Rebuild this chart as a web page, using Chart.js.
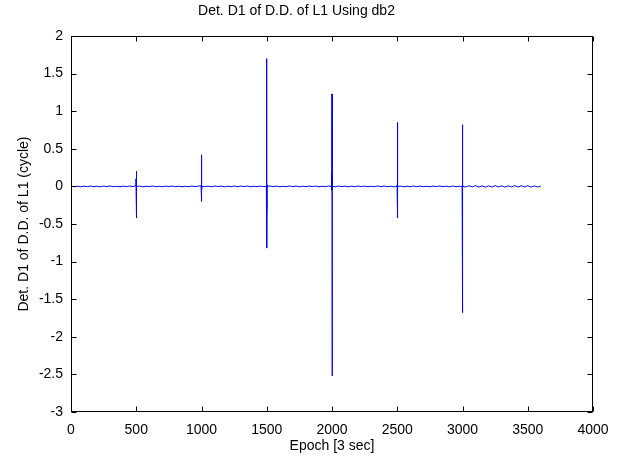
<!DOCTYPE html>
<html>
<head>
<meta charset="utf-8">
<script src="https://cdn.jsdelivr.net/npm/chart.js@4/dist/chart.umd.min.js"></script>
<style>
  html, body { margin: 0; padding: 0; background: #fff; }
  #wrap { width: 620px; height: 459px; }
</style>
</head>
<body>
<div id="wrap"><canvas id="d1Chart" width="620" height="459"></canvas></div>
<script>
// quiet part of the detail signal (epoch, value)
const baseEpochs = [
  0, 25, 50, 75, 100, 125, 150, 175, 200, 225, 250, 275, 300, 325, 350, 375, 400, 425, 450, 475,
  525, 550, 575, 600, 625, 650, 675, 700, 725, 750, 775, 800, 825, 850, 875, 900, 925, 950, 975,
  1025, 1050, 1075, 1100, 1125, 1150, 1175, 1200, 1225, 1250, 1275, 1300, 1325, 1350, 1375, 1400, 1425, 1450, 1475,
  1525, 1550, 1575, 1600, 1625, 1650, 1675, 1700, 1725, 1750, 1775, 1800, 1825, 1850, 1875, 1900, 1925, 1950, 1975,
  2025, 2050, 2075, 2100, 2125, 2150, 2175, 2200, 2225, 2250, 2275, 2300, 2325, 2350, 2375, 2400, 2425, 2450, 2475,
  2525, 2550, 2575, 2600, 2625, 2650, 2675, 2700, 2725, 2750, 2775, 2800, 2825, 2850, 2875, 2900, 2925, 2950, 2975,
  3025, 3050, 3075, 3100, 3125, 3150, 3175, 3200, 3225, 3250, 3275, 3300, 3325, 3350, 3375, 3400, 3425, 3450, 3475,
  3500, 3525, 3550, 3575, 3600
];
const baseValues = [
  0.003, -0.004, 0.002, -0.005, 0.004, -0.003, 0.005, -0.004, 0.002, -0.005, 0.004, -0.002, 0.005, -0.004, 0.001, -0.005, 0.004, -0.003, 0.005, -0.002,
  0.004, -0.005, 0.002, -0.003, 0.005, -0.004, 0.002, -0.005, 0.004, -0.002, 0.005, -0.004, 0.003, -0.005, 0.002, -0.004, 0.005, -0.003, 0.004,
  -0.004, 0.003, -0.005, 0.005, -0.002, 0.004, -0.005, 0.002, -0.004, 0.005, -0.003, 0.004, -0.002, 0.005, -0.005, 0.002, -0.004, 0.004, -0.003,
  0.005, -0.003, 0.004, -0.005, 0.002, -0.004, 0.005, -0.002, 0.004, -0.005, 0.003, -0.004, 0.005, -0.002, 0.004, -0.005, 0.002, -0.003, 0.005,
  -0.004, 0.005, -0.002, 0.004, -0.005, 0.003, -0.004, 0.005, -0.002, 0.004, -0.005, 0.002, -0.004, 0.005, -0.003, 0.005, -0.004, 0.002, -0.005,
  0.004, -0.005, 0.002, -0.004, 0.005, -0.003, 0.005, -0.004, 0.002, -0.005, 0.004, -0.002, 0.005, -0.004, 0.003, -0.005, 0.005, -0.004, 0.002,
  -0.008, 0.009, -0.006, 0.01, -0.008, 0.007, -0.01, 0.008, -0.009, 0.01, -0.007, 0.008, -0.01, 0.008, -0.006, 0.01, -0.008, 0.009, -0.008,
  0.01, -0.01, 0.007, -0.008, 0.005
];

// spikes (cycle slips) near every 500 epochs
const spikeEpochs = [
  497, 498, 499, 500, 501, 502, 503, 504,
  997, 998, 999, 1000, 1001, 1002, 1003, 1004,
  1497, 1498, 1499, 1500, 1501, 1502, 1503, 1504,
  1997, 1998, 1999, 2000, 2001, 2002, 2003,
  2497, 2498, 2499, 2500, 2501, 2502, 2503, 2504, 2505,
  2997, 2998, 2999, 3000, 3001, 3002, 3003, 3004
];
const spikeValues = [
  0.01, 0.1, -0.1, 0.2, -0.42, 0.08, -0.05, 0.0,
  0.01, 0.15, -0.1, 0.42, -0.2, 0.12, -0.05, 0.0,
  0.0, -0.35, 0.05, 1.7, -0.82, -0.3, 0.02, 0.0,
  0.0, 0.18, -0.05, 1.23, -2.52, 0.15, 0.0,
  0.0, 0.02, -0.03, 0.85, -0.42, 0.08, 0.02, 0.06, 0.0,
  0.0, -0.25, 0.05, 0.82, -1.68, -0.2, 0.02, 0.0
];

const xTicks = [0, 500, 1000, 1500, 2000, 2500, 3000, 3500, 4000];
const yTicks = [-3, -2.5, -2, -1.5, -1, -0.5, 0, 0.5, 1, 1.5, 2];

const titleText = 'Det. D1 of D.D. of L1 Using db2';
const xLabel = 'Epoch [3 sec]';
const yLabel = 'Det. D1 of D.D. of L1 (cycle)';

let points = [];
for (let i = 0; i < baseEpochs.length; i++) points.push({ x: baseEpochs[i], y: baseValues[i] });
for (let i = 0; i < spikeEpochs.length; i++) points.push({ x: spikeEpochs[i], y: spikeValues[i] });
points.sort(function (a, b) { return a.x - b.x; });

const fontFam = '"Liberation Sans", Arial, sans-serif';

// matlab style box with inward ticks
const boxPlugin = {
  id: 'boxPlugin',
  afterDatasetsDraw: function (chart) {
    const c = chart.ctx;
    const a = chart.chartArea;
    const xs = chart.scales.x;
    const ys = chart.scales.y;
    const L = Math.round(a.left) + 0.5, R = Math.round(a.right) - 0.5;
    const T = Math.round(a.top) + 0.5, B = Math.round(a.bottom) - 0.5;
    c.save();
    c.strokeStyle = '#000';
    c.lineWidth = 1;
    c.beginPath();
    for (const v of xTicks) {
      const px = Math.round(xs.getPixelForValue(v)) + 0.5;
      c.moveTo(px, B); c.lineTo(px, B - 5);
      c.moveTo(px, T); c.lineTo(px, T + 5);
    }
    for (const v of yTicks) {
      const py = Math.round(ys.getPixelForValue(v)) + 0.5;
      c.moveTo(L, py); c.lineTo(L + 5, py);
      c.moveTo(R, py); c.lineTo(R - 5, py);
    }
    c.stroke();
    c.strokeRect(L, T, R - L, B - T);
    c.restore();
  }
};

document.addEventListener('DOMContentLoaded', function () {
  const ctx = document.getElementById('d1Chart').getContext('2d');
  new Chart(ctx, {
    type: 'line',
    data: {
      datasets: [{
        data: points,
        borderColor: '#0000ff',
        borderWidth: 1,
        pointRadius: 0,
        tension: 0,
        fill: false
      }]
    },
    options: {
      responsive: false,
      animation: false,
      layout: { padding: { left: 0, right: 27, top: 0, bottom: 0 } },
      plugins: {
        legend: { display: false },
        tooltip: { enabled: false },
        title: {
          display: true,
          text: titleText,
          color: '#000',
          font: { family: fontFam, size: 14, weight: 'normal' },
          padding: { top: 3, bottom: 16.2 }
        }
      },
      scales: {
        x: {
          type: 'linear',
          min: 0,
          max: 4000,
          grid: { display: false, drawTicks: false },
          border: { display: false },
          afterFit: function (s) { s.height = 47; },
          afterBuildTicks: function (s) { s.ticks = xTicks.map(function (v) { return { value: v }; }); },
          ticks: {
            color: '#000',
            padding: 10,
            maxRotation: 0,
            font: { family: fontFam, size: 14 },
            callback: function (v) { return String(v); }
          },
          title: {
            display: true,
            text: xLabel,
            color: '#000',
            font: { family: fontFam, size: 14 },
            padding: { top: 0, bottom: 4 }
          }
        },
        y: {
          min: -3,
          max: 2,
          grid: { display: false, drawTicks: false },
          border: { display: false },
          afterFit: function (s) { s.width = 71; },
          afterBuildTicks: function (s) { s.ticks = yTicks.map(function (v) { return { value: v }; }); },
          ticks: {
            color: '#000',
            padding: 8,
            font: { family: fontFam, size: 14 },
            callback: function (v) { return String(v); }
          },
          title: {
            display: true,
            text: yLabel,
            color: '#000',
            font: { family: fontFam, size: 14 },
            padding: { top: 16, bottom: 0 }
          }
        }
      }
    },
    plugins: [boxPlugin]
  });
});
</script>
</body>
</html>
